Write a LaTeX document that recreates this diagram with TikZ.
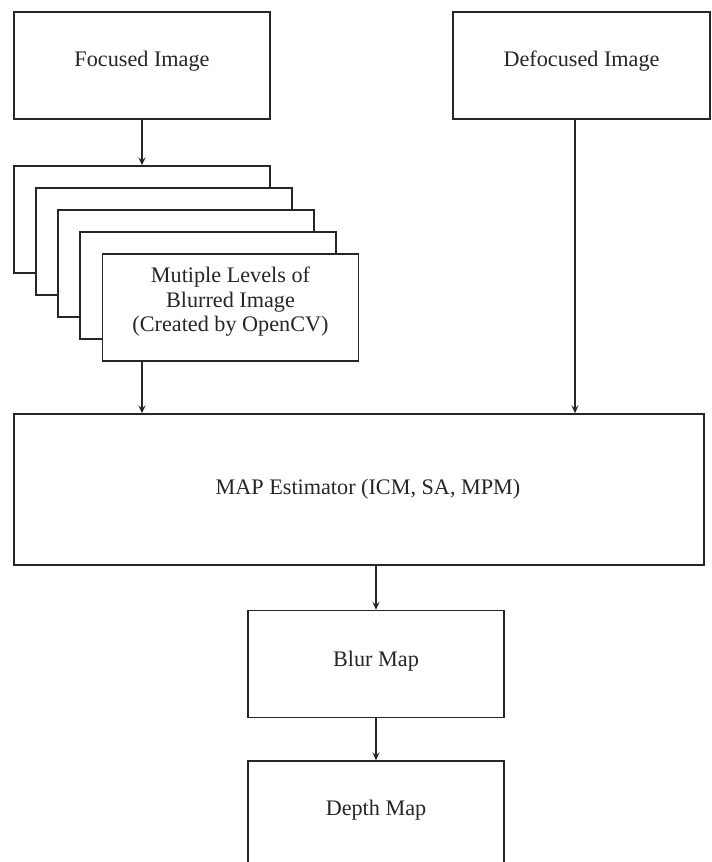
\documentclass[tikz,border=0pt]{standalone}
\usepackage{fontspec}
\setmainfont{Liberation Serif}
\usetikzlibrary{arrows.meta,calc}
\begin{document}
\begin{tikzpicture}[x=0.5pt,y=-0.5pt,
  box/.style={draw=black!85, line width=0.75pt, fill=white, inner sep=0pt,
    minimum width=128pt, minimum height=53.5pt},
  txt/.style={anchor=base, inner sep=0pt, font=\fontsize{11.1}{12.5}\selectfont, text=black!85},
  arr/.style={draw=black!85, line width=0.75pt, -{Stealth[length=4pt,width=3.6pt,inset=1.6pt]}}]
\useasboundingbox (0,0) rectangle (712,862);
\clip (0,0) rectangle (712,862);
% top boxes
\node[box] (foc) at (142,65.5) {};
\node[txt] (foct) at (142,66) {Focused Image};
\node[box, minimum width=128.5pt] (def) at (581.5,65.5) {};
\node[txt] (deft) at (581.5,66) {Defocused Image};
\coordinate (defout) at (575,119);
% stacked blurred images
\node[box] (s1) at (142,219.5) {};
\node[box] (s2) at (164,241.5) {};
\node[box] (s3) at (186,263.5) {};
\node[box] (s4) at (208,285.5) {};
\node[box] (s5) at (230.5,307.5) {};
\node[txt] (s5a) at (230.5,282) {Mutiple Levels of};
\node[txt] (s5b) at (230.5,307) {Blurred Image};
\node[txt] (s5c) at (230.5,331) {(Created by OpenCV)};
% MAP estimator
\node[box, minimum width=345pt, minimum height=75.5pt] (map) at (359,489.5) {};
\node[txt] (mapt) at (368,494) {MAP Estimator (ICM, SA, MPM)};
% blur map and depth map (depth map runs past the lower edge)
\node[box] (blur) at (376,664) {};
\node[txt] (blurt) at (376,666) {Blur Map};
\node[box, minimum height=60pt] (depth) at (376,821) {};
\node[txt] (deptht) at (376,815) {Depth Map};
% connectors
\draw[arr] (foc.south) -- (s1.north -| foc.south);
\draw[arr] (s5.south -| foc.south) -- (map.north -| foc.south);
\draw[arr] (defout) -- (defout |- map.north);
\draw[arr] (map.south -| blur.north) -- (blur.north);
\draw[arr] (blur.south) -- (depth.north);
\end{tikzpicture}
\end{document}
